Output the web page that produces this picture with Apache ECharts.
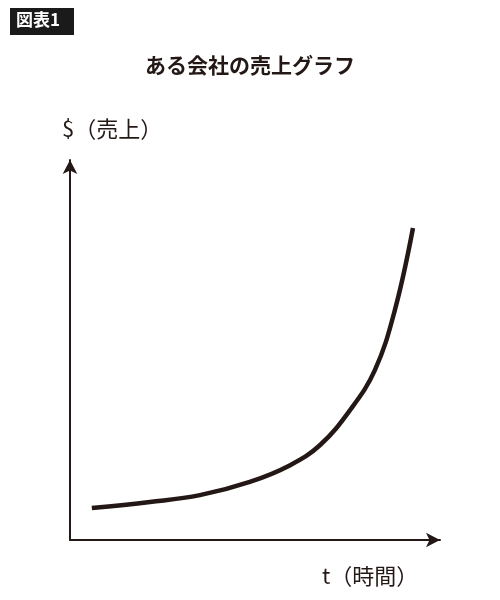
<!DOCTYPE html>
<html><head><meta charset="utf-8">
<script src="https://cdn.jsdelivr.net/npm/echarts@6/dist/echarts.min.js"></script>
<style>html,body{margin:0;background:#fff}#c{width:500px;height:600px}</style>
</head><body><div id="c"></div>
<script>
// time (0-100) and sales (0-100)
const timeVals = [5.9, 21.6, 35.1, 48.6, 59.5, 67.6, 75.7, 82.4, 87.8, 92.7];
const salesVals = [8.4, 10, 11.8, 15.3, 19.7, 25, 34.2, 44.7, 60.5, 82.1];
const ink = '#231815';
const font = '"Noto Sans CJK JP", sans-serif';

const chart = echarts.init(document.getElementById('c'));
chart.setOption({
    animation: false,
    grid: { left: 70, right: 60, top: 160, bottom: 60 },
    graphic: [
        { type: 'rect', left: 10, top: 8, shape: { width: 64, height: 27 }, style: { fill: '#1a1a1a' } },
        { type: 'text', left: 16, top: 11, style: { text: '図表1', fill: '#fff', font: 'bold 17px ' + font } },
        { type: 'text', left: 'center', top: 55, style: { text: 'ある会社の売上グラフ', fill: ink, font: 'bold 21px ' + font } },
        { type: 'text', left: 62, top: 118, style: { text: '$（売上）', fill: ink, font: '22px ' + font } },
        { type: 'text', left: 322, top: 565, style: { text: 't（時間）', fill: ink, font: '22px ' + font } }
    ],
    xAxis: {
        type: 'value', min: 0, max: 100,
        axisLine: { show: true, symbol: ['none', 'arrow'], symbolSize: [11, 14], lineStyle: { color: ink, width: 2 } },
        axisTick: { show: false }, axisLabel: { show: false }, splitLine: { show: false }
    },
    yAxis: {
        type: 'value', min: 0, max: 100,
        axisLine: { show: true, symbol: ['none', 'arrow'], symbolSize: [11, 14], lineStyle: { color: ink, width: 2 } },
        axisTick: { show: false }, axisLabel: { show: false }, splitLine: { show: false }
    },
    series: [{
        type: 'line', smooth: 0.4, showSymbol: false,
        data: timeVals.map((t, i) => [t, salesVals[i]]),
        lineStyle: { color: ink, width: 4.5 }
    }]
});
</script></body></html>
